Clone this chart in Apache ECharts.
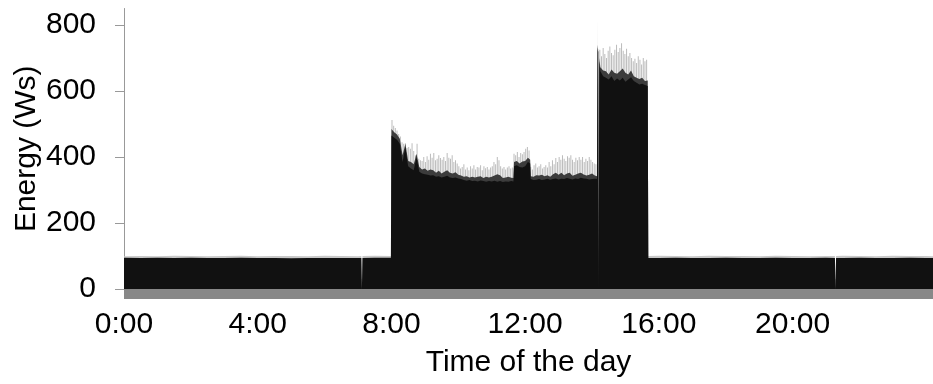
<!DOCTYPE html>
<html>
<head>
<meta charset="utf-8">
<script src="https://cdn.jsdelivr.net/npm/echarts@6/dist/echarts.min.js"></script>
<style>
html,body{margin:0;padding:0;background:#fff;}
#chart{width:933px;height:384px;}
</style>
</head>
<body>
<div id="chart"></div>
<script>
// ---- data (time in minutes of the day, energy in Ws) ----
var xTickHours = [0, 4, 8, 12, 16, 20];
var yTicks = [0, 200, 400, 600, 800];

// black floor of the signal
var floorMinutes = [0,30,60,90,120,150,180,210,240,270,300,330,360,390,420,426,427,428,450,479,
  480,485,490,495,500,505,510,515,520,525,530,535,540,545,550,555,560,565,570,575,580,585,590,595,
  600,605,610,615,620,625,630,635,640,645,650,655,660,665,670,675,680,685,690,695,699,
  700,705,710,715,720,725,729,730,735,740,745,750,755,760,765,770,775,780,785,790,795,800,805,810,815,
  820,825,830,835,840,845,849,850,851,852,853,855,860,865,870,875,880,885,890,895,900,905,910,915,920,
  925,930,935,940,941,960,990,1020,1050,1080,1110,1140,1170,1200,1230,1260,1276,1277,1278,1290,1320,
  1350,1380,1410,1440,1452];
var floorValues = [95,94,95,94,95,94,94,95,94,94,93,94,94,94,94,94,0,94,95,95,
  465,458,452,440,385,430,372,365,360,400,355,350,348,346,344,345,340,342,338,340,343,338,336,338,
  335,333,330,328,330,327,328,326,329,327,325,327,326,328,325,327,324,326,325,327,326,
  372,375,370,368,372,385,380,333,330,331,333,330,332,334,331,333,335,332,334,333,336,334,332,335,333,
  337,335,334,332,333,334,333,730,720,0,690,660,645,640,635,645,630,638,632,640,628,635,642,630,625,
  620,622,618,615,94,94,95,94,94,95,94,94,95,94,94,95,94,0,94,94,95,
  94,94,95,94,94];

// dense dark band just above the floor (active period)
var midMinutes = [480,485,490,495,500,505,510,515,520,525,530,535,540,545,550,555,560,565,570,575,580,585,590,595,
  600,605,610,615,620,625,630,635,640,645,650,655,660,665,670,675,680,685,690,695,699,
  700,705,710,715,720,725,729,730,735,740,745,750,755,760,765,770,775,780,785,790,795,800,805,810,815,
  820,825,830,835,840,845,849,850,851,852,853,855,860,865,870,875,880,885,890,895,900,905,910,915,920,
  925,930,935,940,941];
var midValues = [485,475,468,455,405,440,388,385,378,410,370,362,365,358,362,360,352,358,350,355,360,352,350,354,
  346,344,340,342,338,340,338,340,342,336,340,338,340,344,348,345,336,338,340,337,336,
  385,388,380,386,388,398,392,342,340,345,344,346,342,345,340,348,352,346,352,345,350,352,343,346,350,
  352,347,344,346,350,344,342,740,725,0,700,672,662,660,650,665,655,652,660,668,655,650,662,645,640,
  636,640,630,632,96];

// light fringe on the idle level and the single tall spike at 14:10
var upperMinutes = [0,30,60,90,120,150,180,210,240,270,300,330,360,390,420,426,427,428,450,479,
  849,850,851,941,960,990,1020,1050,1080,1110,1140,1170,1200,1230,1260,1276,1277,1278,1290,1320,
  1350,1380,1410,1440,1452];
var upperValues = [99,100,99,101,100,99,100,101,99,100,100,99,101,100,99,100,0,100,101,100,
  100,833,100,100,101,100,99,101,100,100,99,101,100,99,100,100,0,100,101,100,
  99,101,100,100,99];

// thin spikes sampled every 3 minutes: 08:01 .. 14:07, then 14:11 .. 15:38
var spikeStartA = 481, spikeStartB = 851, spikeStep = 3;
var spikeValuesA = [512,495,488,480,470,462,445,440,442,428,
  430,425,442,418,405,440,395,390,388,400,
  385,402,392,410,398,412,390,395,405,397,
  392,400,388,412,398,395,405,385,390,380,
  372,365,370,378,362,368,360,372,365,375,
  362,370,368,375,360,372,366,370,362,368,
  372,385,378,400,390,372,365,370,362,368,
  372,365,368,410,405,415,400,412,408,415,
  425,430,420,370,362,375,380,368,372,378,
  365,370,375,368,385,372,390,378,397,385,
  400,392,405,395,388,402,398,405,392,385,
  398,390,400,392,400,385,395,388,400,392,
  385,380,378];
var spikeValuesB = [720,725,705,730,712,700,722,735,715,708,
  725,740,718,730,745,722,712,728,705,715,
  700,690,698,685,705,695,680,700,690,695];

function pairs(mins, vals) {
  return mins.map(function (m, i) { return [m / 60, vals[i]]; });
}
function sampled(start, step, vals) {
  return vals.map(function (v, i) { return [(start + i * step) / 60, v]; });
}

var FONT = '"Liberation Sans", Arial, sans-serif';
var chart = echarts.init(document.getElementById('chart'), null, {renderer: 'canvas'});

function areaSeries(name, data, color, z) {
  return {
    name: name, type: 'line', data: data, showSymbol: false, symbol: 'none',
    lineStyle: {width: 0}, areaStyle: {color: color, opacity: 1},
    itemStyle: {color: color}, z: z, silent: true, animation: false
  };
}

chart.setOption({
  animation: false,
  backgroundColor: '#ffffff',
  grid: {left: 124, right: 0, top: 8.5, bottom: 95, containLabel: false, outerBoundsMode: 'none'},
  xAxis: {
    type: 'value', min: 0, max: 24.2, interval: 4,
    name: 'Time of the day', nameLocation: 'middle', nameGap: 59, nameMoveOverlap: false,
    nameTextStyle: {fontFamily: FONT, fontSize: 30, color: '#000'},
    axisLine: {show: true, lineStyle: {color: '#888888', width: 20, cap: 'butt'}},
    axisTick: {show: false},
    splitLine: {show: false},
    axisLabel: {
      customValues: xTickHours, fontFamily: FONT, fontSize: 30, color: '#000', margin: 21,
      formatter: function (v) { return Math.round(v) + ':00'; }
    }
  },
  yAxis: {
    type: 'value', min: 0, max: 850, interval: 200,
    name: 'Energy (Ws)', nameLocation: 'middle', nameGap: 82, nameMoveOverlap: false,
    nameTextStyle: {fontFamily: FONT, fontSize: 30, color: '#000'},
    axisLine: {show: true, lineStyle: {color: '#999999', width: 1}},
    axisTick: {show: true, length: 9, customValues: yTicks, lineStyle: {color: '#999999'}},
    splitLine: {show: false},
    axisLabel: {customValues: yTicks, fontFamily: FONT, fontSize: 30, color: '#000', margin: 28}
  },
  series: [
    {
      name: 'spikesA', type: 'bar', barWidth: 1, barGap: '-100%', data: sampled(spikeStartA, spikeStep, spikeValuesA),
      itemStyle: {color: '#bcbcbc'}, z: 1, silent: true, animation: false
    },
    {
      name: 'spikesB', type: 'bar', barWidth: 1, barGap: '-100%', data: sampled(spikeStartB, spikeStep, spikeValuesB),
      itemStyle: {color: '#bcbcbc'}, z: 1, silent: true, animation: false
    },
    areaSeries('upper', pairs(upperMinutes, upperValues), '#c8c8c8', 2),
    areaSeries('mid', pairs(midMinutes, midValues), '#3c3c3c', 3),
    areaSeries('floor', pairs(floorMinutes, floorValues), '#111111', 4)
  ]
});
</script>
</body>
</html>
